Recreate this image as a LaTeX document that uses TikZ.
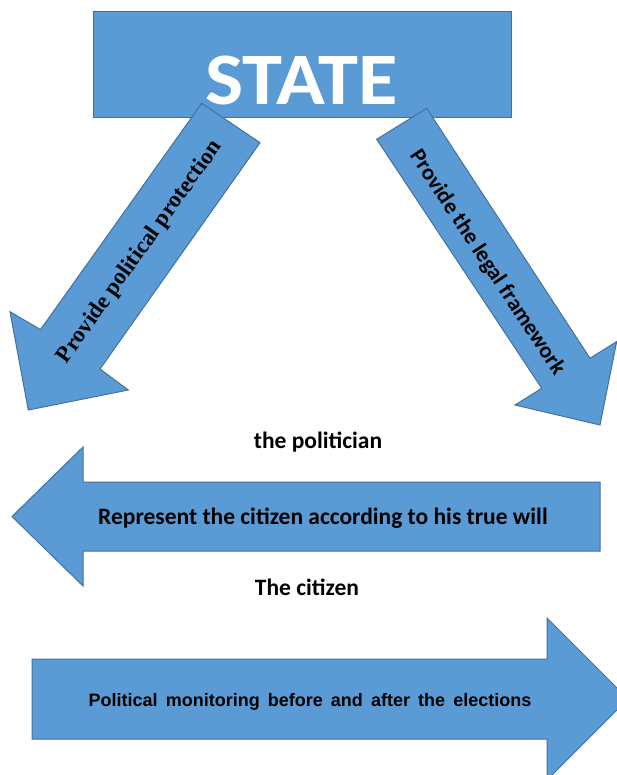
\documentclass[tikz,border=0pt]{standalone}
\usepackage{fontspec}
\newfontfamily\carlito{Carlito}
\newfontfamily\libsans{Liberation Sans}
\newfontfamily\libserif{Liberation Serif}
\definecolor{fillblue}{HTML}{5B9BD5}
\definecolor{edgeblue}{HTML}{41719C}
\tikzset{
  shapeblue/.style={fill=fillblue, draw=edgeblue, line width=1pt, line join=miter},
  caltext/.style={font=\carlito\bfseries\fontsize{23.5}{28}\selectfont, text=black, inner sep=0pt},
}
\begin{document}
\begin{tikzpicture}[x=1pt,y=-1pt]
\useasboundingbox (0,0) rectangle (617,775);
\clip (0,0) rectangle (617,775);
% STATE box
\node[shapeblue, minimum width=418pt, minimum height=106pt, inner sep=0pt] (state) at (302,65) {};
\node[font=\carlito\bfseries\fontsize{74}{80}\selectfont, text=white, inner sep=0pt] (statetxt) at (301.5,80) {\scalebox{1.09}[1]{STATE}};
% left diagonal arrow
\path[shapeblue] (201.7,103.3) -- (260,142.7) -- (100,369) -- (128.3,390) -- (28.3,410) -- (10,311.7) -- (40.5,329.6) -- cycle;
\node[font=\libserif\bfseries\fontsize{23}{27}\selectfont, rotate=54.5, inner sep=0pt] (ltxt) at (140,252) {Provide political protection};
% right diagonal arrow
\path[shapeblue] (426.7,108.3) -- (590,358.3) -- (616.7,341.6) -- (600,425) -- (515,405) -- (541.7,388.3) -- (376.7,139.3) -- cycle;
\node[font=\carlito\bfseries\fontsize{22.5}{26}\selectfont, rotate=-56.6, inner sep=0pt] (rtxt) at (487,263) {Provide the legal framework};
% politician label
\node[caltext, anchor=base] (pol) at (318,448) {the politician};
% left horizontal arrow
\path[shapeblue] (600,482) -- (83,482) -- (83,447) -- (12,516.5) -- (83,586) -- (83,551) -- (600,551) -- cycle;
\node[caltext, anchor=base] (rep) at (323,524) {Represent the citizen according to his true will};
% citizen label
\node[caltext, anchor=base] (cit) at (307,595) {The citizen};
% bottom right arrow
\path[shapeblue] (32,659) -- (547,659) -- (547,618) -- (628,699) -- (547,780) -- (547,739) -- (32,739) -- cycle;
\node[font=\libsans\bfseries\fontsize{18}{22}\selectfont, anchor=base, inner sep=0pt, text=black] (mon) at (310,706) {Political\hspace{0.45em}monitoring\hspace{0.45em}before\hspace{0.45em}and\hspace{0.45em}after\hspace{0.45em}the\hspace{0.45em}elections};
\end{tikzpicture}
\end{document}
